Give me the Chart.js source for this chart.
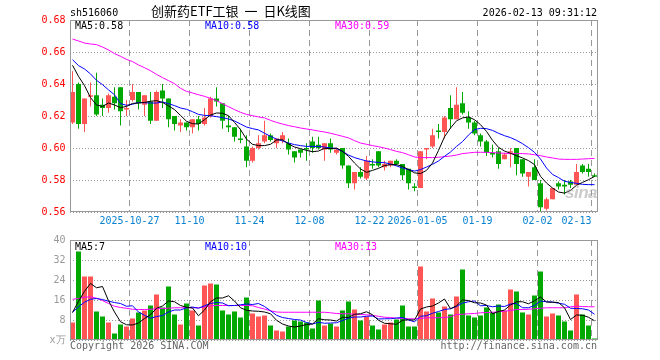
<!DOCTYPE html>
<html>
<head>
<meta charset="utf-8">
<script src="https://cdn.jsdelivr.net/npm/chart.js@4.4.1/dist/chart.umd.min.js"></script>
<style>
  html, body { margin: 0; padding: 0; background: #fff; }
  #wrap { position: relative; width: 660px; height: 360px; overflow: hidden;
          font-family: "DejaVu Sans Mono", monospace; font-size: 10px; line-height: 10px; }
  #wrap canvas { position: absolute; left: 0; top: 0; }
  .t { position: absolute; white-space: pre; }
  .sina { position: absolute; left: 565px; top: 184px; font: italic bold 17px/17px "Liberation Sans", sans-serif;
          color: rgba(160,160,160,0.55); letter-spacing: -0.5px; }
</style>
</head>
<body>
<div id="wrap">
  <canvas id="kline" width="660" height="360"></canvas>
  <canvas id="vol" width="660" height="360"></canvas>

  <div class="t" style="left:70px;top:8px;color:#000">sh516060</div>
  <div class="t" style="left:151px;top:4px;font:13px/13px 'Noto Sans CJK SC',sans-serif;word-spacing:3px;color:#000">创新药ETF工银 一 日K线图</div>
  <div class="t" style="right:63px;top:7.5px;color:#000">2026-02-13 09:31:12</div>

  <div class="t" id="pm5"  style="left:75px;top:21px;color:#000"></div>
  <div class="t" id="pm10" style="left:205px;top:21px;color:#0000ff"></div>
  <div class="t" id="pm30" style="left:335px;top:21px;color:#ff00ff"></div>

  <div class="t" id="vm5"  style="left:75px;top:241.5px;color:#000"></div>
  <div class="t" id="vm10" style="left:205px;top:241.5px;color:#0000ff"></div>
  <div class="t" id="vm30" style="left:335px;top:241.5px;color:#ff00ff"></div>

  <div class="sina">sina</div>
  <div class="t" style="left:70px;top:340.5px;color:#666">Copyright 2026 SINA.COM</div>
  <div class="t" style="right:63px;top:340.5px;color:#666">http://finance.sina.com.cn</div>
</div>

<script>
// ── Datos ──────────────────────────────────────────────────────────────
const dates = [
  '2025-10-13','2025-10-14','2025-10-15','2025-10-16','2025-10-17','2025-10-20','2025-10-21','2025-10-22','2025-10-23','2025-10-24',
  '2025-10-27','2025-10-28','2025-10-29','2025-10-30','2025-10-31',
  '2025-11-03','2025-11-04','2025-11-05','2025-11-06','2025-11-07','2025-11-10','2025-11-11','2025-11-12','2025-11-13','2025-11-14',
  '2025-11-17','2025-11-18','2025-11-19','2025-11-20','2025-11-21','2025-11-24','2025-11-25','2025-11-26','2025-11-27','2025-11-28',
  '2025-12-01','2025-12-02','2025-12-03','2025-12-04','2025-12-05','2025-12-08','2025-12-09','2025-12-10','2025-12-11','2025-12-12',
  '2025-12-15','2025-12-16','2025-12-17','2025-12-18','2025-12-19','2025-12-22','2025-12-23','2025-12-24','2025-12-25','2025-12-26',
  '2025-12-29','2025-12-30','2025-12-31',
  '2026-01-05','2026-01-06','2026-01-07','2026-01-08','2026-01-09','2026-01-12','2026-01-13','2026-01-14','2026-01-15','2026-01-16',
  '2026-01-19','2026-01-20','2026-01-21','2026-01-22','2026-01-23','2026-01-26','2026-01-27','2026-01-28','2026-01-29','2026-01-30',
  '2026-02-02','2026-02-03','2026-02-04','2026-02-05','2026-02-06','2026-02-09','2026-02-10','2026-02-11','2026-02-12','2026-02-13'
];

const open = [
  .616,.640,.615,.632,.633,.627,.625,.632,.638,.624, .630,.635,.627,.629,.617,.636,.631,.620,.614,.616,
  .613,.618,.615,.620,.631,.628,.614,.613,.606,.601, .592,.600,.604,.608,.603,.605,.603,.598,.599,.600,
  .604,.602,.599,.603,.597,.600,.589,.578,.585,.581, .590,.598,.588,.589,.592,.590,.587,.576,.575,.599,
  .601,.611,.610,.625,.618,.628,.619,.616,.608,.604, .597,.598,.593,.597,.600,.593,.582,.588,.578,.562,
  .568,.578,.577,.579,.577,.589,.587,.583
];
const high = [
  .648,.641,.631,.641,.647,.631,.634,.638,.638,.630, .640,.635,.633,.635,.636,.640,.631,.620,.618,.616,
  .618,.620,.625,.632,.638,.628,.620,.613,.612,.608, .601,.608,.617,.609,.606,.610,.606,.598,.599,.603,
  .607,.607,.603,.606,.600,.600,.589,.585,.588,.595, .593,.598,.592,.592,.593,.590,.587,.578,.598,.600,
  .612,.615,.620,.633,.638,.635,.623,.617,.609,.605, .602,.600,.597,.600,.600,.593,.585,.593,.580,.569,
  .575,.579,.580,.580,.590,.590,.590,.584
];
const low = [
  .615,.612,.610,.626,.620,.620,.622,.624,.614,.620, .629,.624,.620,.615,.617,.625,.613,.611,.610,.611,
  .609,.611,.614,.619,.626,.612,.610,.604,.603,.588, .591,.599,.603,.604,.600,.603,.596,.591,.594,.592,
  .597,.599,.592,.597,.596,.587,.575,.574,.581,.580, .587,.588,.586,.588,.589,.580,.574,.573,.575,.593,
  .600,.606,.606,.612,.618,.621,.612,.608,.601,.595, .594,.587,.593,.588,.583,.582,.576,.580,.560,.561,
  .568,.574,.571,.575,.577,.584,.582,.582
];
const close = [
  .635,.615,.631,.633,.621,.625,.633,.628,.623,.625, .635,.628,.633,.617,.635,.631,.618,.615,.616,.613,
  .618,.615,.619,.631,.629,.617,.613,.607,.605,.592, .600,.603,.608,.605,.606,.608,.599,.594,.597,.599,
  .600,.600,.603,.599,.599,.589,.578,.585,.582,.592, .589,.589,.590,.592,.590,.583,.578,.575,.598,.600,
  .608,.610,.619,.618,.627,.622,.616,.609,.604,.597, .596,.590,.596,.598,.590,.584,.585,.580,.563,.568,
  .575,.576,.576,.577,.585,.585,.585,.582
];

const ma5 = [
  .6517,.6448,.6390,.6315,.6269,.6260,.6281,.6269,.6252,.6260, .6279,.6281,.6285,.6292,.6296,.6285,.6263,.6240,.6204,.6167,
  .6152,.6150,.6177,.6206,.6219,.6217,.6202,.6160,.6115,.6055, .6023,.6015,.6015,.6023,.6050,.6052,.6025,.6006,.5996,.5985,
  .5977,.5981,.5998,.5996,.6000,.5979,.5948,.5906,.5869,.5848, .5860,.5873,.5890,.5896,.5896,.5885,.5865,.5845,.5840,.5860,
  .5906,.5985,.6070,.6125,.6170,.6188,.6194,.6177,.6146,.6104, .6048,.6004,.5981,.5967,.5952,.5938,.5921,.5896,.5823,.5781,
  .5750,.5725,.5718,.5735,.5767,.5785,.5802,.5822
];
const ma10 = [
  .6552,.6515,.6494,.6463,.6423,.6396,.6363,.6333,.6277,.6267, .6273,.6285,.6283,.6281,.6281,.6288,.6277,.6265,.6250,.6242,
  .6227,.6210,.6204,.6202,.6196,.6190,.6181,.6169,.6150,.6131, .6121,.6113,.6092,.6073,.6056,.6044,.6031,.6021,.6015,.6010,
  .6010,.6010,.6006,.6000,.5996,.5979,.5956,.5940,.5929,.5919, .5913,.5910,.5908,.5900,.5888,.5875,.5865,.5856,.5865,.5881,
  .5898,.5919,.5948,.5975,.6010,.6040,.6081,.6115,.6123,.6121, .6110,.6092,.6077,.6065,.6048,.6027,.6002,.5973,.5931,.5875,
  .5835,.5815,.5792,.5785,.5779,.5773,.5771,.5771
];
const ma30 = [
  .6681,.6669,.6656,.6650,.6646,.6631,.6613,.6590,.6573,.6554, .6540,.6519,.6502,.6483,.6460,.6440,.6421,.6402,.6373,.6354,
  .6344,.6333,.6323,.6310,.6296,.6277,.6258,.6240,.6223,.6210, .6202,.6194,.6188,.6173,.6160,.6150,.6140,.6133,.6125,.6119,
  .6113,.6106,.6100,.6092,.6083,.6073,.6063,.6046,.6031,.6023, .6015,.6008,.6000,.5990,.5979,.5971,.5958,.5944,.5940,.5940,
  .5940,.5942,.5946,.5950,.5956,.5965,.5969,.5973,.5973,.5973, .5971,.5969,.5967,.5965,.5965,.5965,.5963,.5958,.5952,.5944,
  .5938,.5931,.5929,.5929,.5929,.5931,.5933,.5935
];

// Volumen (万手)
const volume = [
  7.0,35.4,25.4,25.4,11.4,9.4,7.0,2.6,6.2,5.4, 8.6,11.0,11.8,13.8,18.2,13.0,21.4,10.2,6.2,14.6,
  11.8,5.8,21.8,22.6,22.2,11.8,10.2,11.4,9.0,17.0, 10.6,9.4,9.8,5.8,3.8,3.4,5.4,7.8,7.4,7.0,
  4.6,15.8,5.8,6.6,5.4,11.8,15.4,12.2,7.8,9.4, 5.8,4.2,6.2,7.0,8.2,13.8,5.4,5.4,29.4,11.4,
  16.6,11.0,13.4,10.2,17.4,28.2,9.8,9.0,9.8,13.0, 11.0,14.2,11.8,20.2,19.4,11.0,10.2,17.8,27.4,9.4,
  10.6,9.8,7.4,3.8,18.2,10.2,5.8,0.6
];
const volMa5 = [
  11.0,15.5,19.5,22.6,20.9,21.4,15.7,11.2,7.3,6.1, 6.0,6.8,8.6,10.1,12.7,13.6,15.6,15.3,13.8,13.1,
  12.8,9.7,12.0,15.3,16.8,16.8,17.7,15.6,12.9,11.9, 11.6,11.5,11.2,10.5,7.9,6.4,5.6,5.2,5.6,6.2,
  6.4,8.5,8.1,8.0,7.6,9.1,9.0,10.3,10.5,11.3, 10.1,7.9,6.7,6.5,6.3,7.9,8.1,8.0,12.4,13.2,
  13.6,14.8,16.4,12.5,13.7,16.0,15.8,14.9,14.8,14.0, 10.5,11.4,12.0,14.0,15.3,15.3,14.5,15.7,17.2,15.2,
  15.1,15.0,12.9,8.2,10.0,9.9,9.1,7.7
];
const volMa10 = [
  11.1,13.3,15.1,16.3,16.6,16.2,15.5,15.0,14.6,13.5, 13.7,11.2,9.9,8.7,9.4,9.8,11.2,12.0,12.0,12.9,
  13.2,12.7,13.7,14.6,15.0,14.8,13.7,13.8,14.1,14.4, 14.2,14.6,13.4,11.7,9.9,9.0,8.6,8.2,8.0,7.0,
  6.4,7.1,6.7,6.8,6.9,7.8,8.7,9.2,9.2,9.5, 9.6,8.4,8.5,8.5,8.8,9.0,8.0,7.3,9.5,9.7,
  10.7,11.4,12.2,12.5,13.4,14.8,15.3,15.6,13.7,13.8, 13.3,13.6,13.4,14.4,14.6,12.9,12.9,13.8,15.6,15.3,
  15.2,14.7,14.3,12.7,12.6,12.5,12.0,10.3
];
const volMa30 = [
  16.3,16.6,17.1,17.3,16.7,15.8,14.6,13.5,13.0,12.7, 12.3,12.2,12.2,12.3,12.5,12.6,12.7,12.9,12.9,12.9,
  12.9,12.9,13.3,13.7,13.8,13.8,13.8,13.8,13.8,13.8, 13.7,13.0,12.4,11.7,11.2,11.1,11.1,11.1,11.1,11.1,
  11.1,11.1,11.1,10.9,10.6,10.5,10.5,10.3,10.2,10.1, 9.8,9.5,9.1,9.0,8.7,8.6,8.5,8.5,8.6,8.9,
  8.9,8.9,9.0,9.3,10.2,10.3,10.5,10.6,10.9,11.0, 11.1,11.3,11.5,11.8,12.2,12.2,12.3,12.5,12.7,12.9,
  12.9,12.9,12.9,13.3,13.5,13.4,13.3,13.3
];

// Marcas del eje X
const tickDates = ['2025-10-27','2025-11-10','2025-11-24','2025-12-08','2025-12-22','2026-01-05','2026-01-19','2026-02-02','2026-02-13'];
const tickText  = ['2025-10-27','11-10','11-24','12-08','12-22','2026-01-05','01-19','02-02','02-13'];

// ── Estilos ────────────────────────────────────────────────────────────
const RED = '#ff5555', GREEN = '#00a800';
const candleColor = close.map((c, i) => (c >= open[i] ? RED : GREEN));

Chart.defaults.font.family = '"DejaVu Sans Mono", monospace';
Chart.defaults.font.size = 10;
Chart.defaults.animation = false;

const n = dates.length;
document.getElementById('pm5').textContent  = 'MA5:'  + ma5[n - 1].toFixed(2);
document.getElementById('pm10').textContent = 'MA10:' + ma10[n - 1].toFixed(2);
document.getElementById('pm30').textContent = 'MA30:' + ma30[n - 1].toFixed(2);
document.getElementById('vm5').textContent  = 'MA5:'  + Math.floor(volMa5[n - 1]);
document.getElementById('vm10').textContent = 'MA10:' + Math.floor(volMa10[n - 1]);
document.getElementById('vm30').textContent = 'MA30:' + Math.floor(volMa30[n - 1]);

const dateGrid = ctx => (tickDates.includes(dates[ctx.index]) ? '#999' : 'rgba(0,0,0,0)');

// marco gris alrededor del área
const frame = {
  id: 'frame',
  afterDraw(chart) {
    const a = chart.chartArea, c = chart.ctx;
    const x0 = Math.round(a.left) + 0.5, x1 = Math.round(a.right) - 0.5;
    const y0 = Math.round(a.top) + 0.5,  y1 = Math.round(a.bottom) - 0.5;
    c.save();
    c.strokeStyle = '#999';
    c.lineWidth = 1;
    c.strokeRect(x0, y0, x1 - x0, y1 - y0);
    c.restore();
  }
};

// fechas bajo el gráfico de precios, alineadas a la línea de rejilla
const dateLabels = {
  id: 'dateLabels',
  afterDraw(chart) {
    const x = chart.scales.x, c = chart.ctx;
    const half = (x.getPixelForValue(1) - x.getPixelForValue(0)) / 2;
    c.save();
    c.fillStyle = '#0a82d2';
    c.font = '10px "DejaVu Sans Mono", monospace';
    c.textBaseline = 'middle';
    tickDates.forEach((d, k) => {
      const px = x.getPixelForValue(dates.indexOf(d)) - half;
      c.textAlign = k === tickDates.length - 1 ? 'right' : 'center';
      c.fillText(tickText[k], px, 221);
    });
    c.restore();
  }
};

function xAxis() {
  return {
    offset: true,
    grid: { offset: true, drawTicks: false, color: dateGrid, lineWidth: 1 },
    border: { display: false, dash: [6, 4] },
    ticks: { display: false },
    afterFit: s => { s.height = 0; }
  };
}

function maLine(label, data, color) {
  return { type: 'line', label, data, borderColor: color, borderWidth: 1, pointRadius: 0, fill: false, tension: 0, order: 0 };
}

// ── K線 ────────────────────────────────────────────────────────────────
new Chart(document.getElementById('kline'), {
  type: 'bar',
  data: {
    labels: dates,
    datasets: [
      maLine('MA5', ma5, '#000000'),
      maLine('MA10', ma10, '#0000ff'),
      maLine('MA30', ma30, '#ff00ff'),
      {
        label: 'body', data: open.map((o, i) => [o, close[i]]),
        backgroundColor: candleColor, barThickness: 5, grouped: false,
        inflateAmount: 0, borderWidth: 0, order: 1
      },
      {
        label: 'wick', data: low.map((l, i) => [l, high[i]]),
        backgroundColor: candleColor, barThickness: 1, grouped: false,
        inflateAmount: 0, borderWidth: 0, order: 2
      }
    ]
  },
  options: {
    responsive: false,
    events: [],
    layout: { padding: { top: 20, right: 62.5, bottom: 148, left: 0 } },
    plugins: { legend: { display: false }, tooltip: { enabled: false } },
    scales: {
      x: xAxis(),
      y: {
        min: 0.56, max: 0.68,
        ticks: { stepSize: 0.02, color: '#ff0000', padding: 4, callback: v => Number(v).toFixed(2) },
        grid: { color: '#999', drawTicks: false },
        border: { display: false, dash: [1, 2] },
        afterFit: s => { s.width = 69.5; }
      }
    }
  },
  plugins: [frame, dateLabels]
});

// ── Volumen ────────────────────────────────────────────────────────────
new Chart(document.getElementById('vol'), {
  type: 'bar',
  data: {
    labels: dates,
    datasets: [
      maLine('MA5', volMa5, '#000000'),
      maLine('MA10', volMa10, '#0000ff'),
      maLine('MA30', volMa30, '#ff00ff'),
      {
        label: 'vol', data: volume, backgroundColor: candleColor,
        barThickness: 5, inflateAmount: 0, borderWidth: 0, order: 1
      }
    ]
  },
  options: {
    responsive: false,
    events: [],
    layout: { padding: { top: 240, right: 62.5, bottom: 20, left: 0 } },
    plugins: { legend: { display: false }, tooltip: { enabled: false } },
    scales: {
      x: xAxis(),
      y: {
        min: 0, max: 40,
        ticks: { stepSize: 8, color: '#999', padding: 4, callback: v => (v === 0 ? 'x万' : v) },
        grid: { color: '#999', drawTicks: false },
        border: { display: false, dash: [1, 2] },
        afterFit: s => { s.width = 69.5; }
      }
    }
  },
  plugins: [frame]
});
</script>
</body>
</html>
